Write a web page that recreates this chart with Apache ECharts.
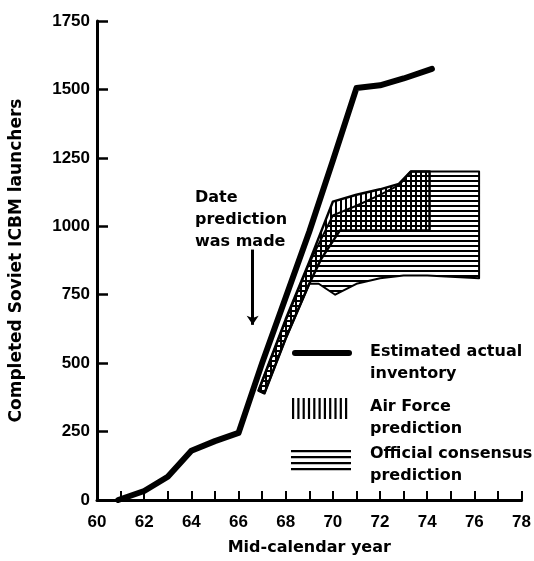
<!DOCTYPE html>
<html>
<head>
<meta charset="utf-8">
<script src="https://cdn.jsdelivr.net/npm/echarts@6/dist/echarts.min.js"></script>
<style>
  html, body { margin: 0; padding: 0; background: #fff; }
  #chart { width: 534px; height: 561px; }
</style>
</head>
<body>
<div id="chart"></div>
<script>
// estimated actual inventory (year, launchers)
var actualYears = [60.9, 62, 63, 64, 65, 66, 67, 68, 69, 70, 71, 72, 73, 74.2];
var actualCount = [0, 33, 85, 180, 215, 245, 500, 740, 980, 1240, 1505, 1515, 1540, 1575];

// Air Force prediction band: upper edge left->right, lower edge right->left
var afTop = [[66.85, 400], [68, 660], [69, 870], [70, 1090], [71, 1115], [72, 1135], [72.8, 1155], [73.3, 1200], [74.1, 1200]];
var afBottom = [[74.1, 985], [70.3, 985], [69.5, 880], [69, 790], [68, 590], [67.1, 390]];

// official consensus prediction band
var conTop = [[66.85, 400], [68, 655], [69, 865], [70, 1040], [71, 1075], [72, 1115], [72.8, 1150], [73.3, 1200], [76.2, 1200]];
var conBottom = [[76.2, 810], [74, 820], [73, 820], [72, 810], [71, 790], [70.1, 750], [69.4, 790], [69, 790], [68, 590], [67.1, 390]];

// arrow "date prediction was made"
var arrowYear = 66.6;
var arrowFrom = 915, arrowTo = 640;

function hatch(vertical) {
    var c = document.createElement('canvas');
    c.width = 5; c.height = 5;
    var ctx = c.getContext('2d');
    ctx.fillStyle = '#000';
    if (vertical) ctx.fillRect(0, 0, 2, 5);
    else ctx.fillRect(0, 0, 5, 2);
    return c;
}
var vPattern = { image: hatch(true), repeat: 'repeat' };
var hPattern = { image: hatch(false), repeat: 'repeat' };

function bandSeries(name, top, bottom, pattern, lw) {
    var pts = top.concat(bottom);
    return {
        name: name,
        type: 'custom',
        data: pts,
        z: 2,
        renderItem: function (params, api) {
            if (params.dataIndex !== 0) return null;
            var poly = pts.map(function (p) { return api.coord(p); });
            return {
                type: 'polygon',
                shape: { points: poly },
                style: { fill: pattern, stroke: '#000', lineWidth: lw, lineJoin: 'round' }
            };
        }
    };
}

var actualData = actualYears.map(function (y, i) { return [y, actualCount[i]]; });

var txt = { fontFamily: 'DejaVu Sans', fontWeight: 'bold', fontSize: 16, fill: '#000' };
function label(x, y, s) {
    return { type: 'text', left: x, top: y, style: Object.assign({ text: s, lineHeight: 22 }, txt) };
}
var bars = [];
for (var i = 0; i < 11; i++) {
    bars.push({ type: 'rect', shape: { x: 292 + i * 5.3, y: 398, width: 2.2, height: 21 }, style: { fill: '#000' } });
}
var hlines = [];
for (var j = 0; j < 4; j++) {
    hlines.push({ type: 'rect', shape: { x: 291, y: 450 + j * 6, width: 60, height: 2.2 }, style: { fill: '#000' } });
}

var myChart = echarts.init(document.getElementById('chart'));
var option = {
    backgroundColor: '#fff',
    animation: false,
    grid: { left: 97, right: 10, top: 21, bottom: 58 },
    xAxis: {
        type: 'value', min: 60, max: 78, interval: 1,
        name: 'Mid-calendar year', nameLocation: 'middle', nameGap: 40,
        nameTextStyle: { fontFamily: 'DejaVu Sans', fontWeight: 'bold', fontSize: 16, color: '#000' },
        axisLine: { lineStyle: { color: '#000', width: 3 } },
        axisTick: { inside: true, length: 9, lineStyle: { color: '#000', width: 2 } },
        axisLabel: {
            margin: 14, color: '#000', fontFamily: 'Liberation Sans', fontWeight: 'bold', fontSize: 17,
            formatter: function (v) { return v % 2 === 0 ? String(v) : ''; }
        },
        splitLine: { show: false }
    },
    yAxis: {
        type: 'value', min: 0, max: 1750, interval: 250,
        name: 'Completed Soviet ICBM launchers', nameLocation: 'middle', nameGap: 72,
        nameTextStyle: { fontFamily: 'DejaVu Sans', fontWeight: 'bold', fontSize: 17, color: '#000' },
        axisLine: { show: true, lineStyle: { color: '#000', width: 3 } },
        axisTick: { show: true, inside: true, length: 11, lineStyle: { color: '#000', width: 2.5 } },
        axisLabel: {
            margin: 7, color: '#000', fontFamily: 'Liberation Sans', fontWeight: 'bold', fontSize: 17,
            formatter: function (v) { return String(v); }
        },
        splitLine: { show: false }
    },
    series: [
        bandSeries('Official consensus prediction', conTop, conBottom, hPattern, 2),
        bandSeries('Air Force prediction', afTop, afBottom, vPattern, 2.5),
        {
            name: 'Estimated actual inventory',
            type: 'line',
            data: actualData,
            showSymbol: false,
            z: 3,
            lineStyle: { color: '#000', width: 6, cap: 'round', join: 'round' },
            markLine: {
                silent: true,
                symbol: ['none', 'arrow'],
                symbolSize: 9,
                label: { show: false },
                lineStyle: { color: '#000', width: 3, type: 'solid' },
                data: [[{ coord: [arrowYear, arrowFrom] }, { coord: [arrowYear, arrowTo] }]]
            }
        }
    ],
    graphic: [
        label(195, 187, 'Date\nprediction\nwas made'),
        { type: 'rect', shape: { x: 292, y: 350, width: 60, height: 6, r: 3 }, style: { fill: '#000' } },
        label(370, 341, 'Estimated actual\ninventory')
    ].concat(bars).concat([
        label(370, 396, 'Air Force\nprediction')
    ]).concat(hlines).concat([
        label(370, 443, 'Official consensus\nprediction')
    ])
};
myChart.setOption(option);
</script>
</body>
</html>
